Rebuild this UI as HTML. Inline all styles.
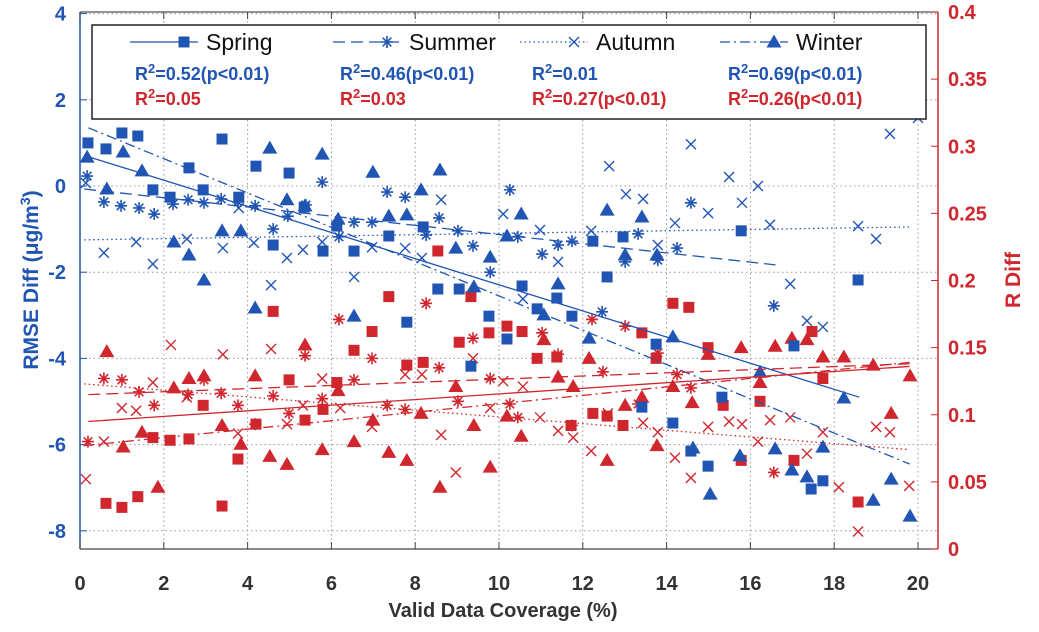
<!DOCTYPE html>
<html><head><meta charset="utf-8"><style>
body{margin:0;background:#fff;}
svg{display:block;font-family:"Liberation Sans",sans-serif;}
</style></head><body>
<svg id="chart" width="1039" height="632" viewBox="0 0 1039 632" xmlns="http://www.w3.org/2000/svg"></svg>
<script>
// ---- data ----
const xTicks=[0,2,4,6,8,10,12,14,16,18,20];
const yLeftTicks=[-8,-6,-4,-2,0,2,4];
const yRightTicks=[0,0.05,0.1,0.15,0.2,0.25,0.3,0.35,0.4];
const yRightLabels=["0","0.05","0.1","0.15","0.2","0.25","0.3","0.35","0.4"];
// RMSE diff (left axis) [x,y]
const rmseSpring=[[0.19,1.0],[0.62,0.86],[1.0,1.23],[1.38,1.16],[1.74,-0.09],[2.15,-0.26],[2.6,0.42],[2.94,-0.09],[3.39,1.09],[3.79,-0.26],[4.2,0.46],[4.61,-1.37],[4.99,0.3],[5.35,-0.49],[5.8,-1.51],[6.13,-0.93],[6.54,-1.51],[7.37,-1.16],[7.8,-3.16],[8.19,-0.95],[8.54,-2.39],[9.05,-2.39],[9.33,-4.18],[9.76,-3.02],[10.19,-3.55],[10.55,-2.32],[10.91,-2.85],[11.38,-2.6],[11.74,-3.02],[12.24,-1.28],[12.58,-2.11],[12.96,-1.18],[13.41,-5.13],[13.75,-3.67],[14.15,-5.5],[14.58,-6.15],[14.99,-6.5],[15.32,-4.9],[15.78,-1.04],[17.04,-3.71],[17.45,-7.03],[17.73,-6.84],[18.57,-2.18]];
const rmseSummer=[[0.17,0.23],[0.57,-0.37],[0.98,-0.46],[1.41,-0.51],[1.77,-0.65],[2.22,-0.42],[2.58,-0.32],[2.96,-0.39],[3.37,-0.3],[3.77,-0.37],[4.18,-0.46],[4.61,-1.0],[4.96,-0.7],[5.39,-0.44],[5.78,0.09],[6.18,-1.18],[6.54,-0.84],[6.97,-0.84],[7.33,-0.14],[7.76,-0.26],[8.26,-1.14],[8.57,-0.74],[9.02,-1.04],[9.38,-1.39],[9.79,-2.0],[10.26,-0.09],[10.45,-1.18],[11.03,-1.58],[11.41,-1.37],[11.74,-1.28],[12.46,-2.92],[13.01,-1.76],[13.32,-1.11],[13.79,-1.72],[14.25,-1.44],[14.58,-0.39],[16.56,-2.78]];
const rmseAutumn=[[0.14,0.07],[0.57,-1.55],[1.34,-1.3],[1.74,-1.81],[2.55,-1.23],[3.41,-1.44],[3.79,-0.51],[4.15,-1.32],[4.56,-2.3],[4.94,-1.67],[5.32,-1.48],[5.78,-1.3],[6.54,-2.11],[6.97,-1.42],[7.76,-1.44],[8.16,-1.67],[8.62,-0.32],[10.1,-0.65],[10.57,-2.62],[10.98,-1.02],[11.41,-1.76],[12.2,-1.04],[12.63,0.46],[13.03,-0.19],[13.44,-0.3],[13.79,-1.37],[14.2,-0.86],[14.58,0.97],[14.99,-0.63],[15.49,0.21],[15.8,-0.39],[16.18,0.0],[16.47,-0.9],[16.95,-2.27],[17.35,-3.13],[17.73,-3.27],[18.57,-0.93],[19.0,-1.23],[19.33,1.21],[20.0,1.58]];
const rmseWinter=[[0.17,0.67],[0.64,-0.07],[1.03,0.79],[1.48,0.35],[2.24,-1.3],[2.6,-1.6],[2.96,-2.18],[3.39,-1.04],[3.84,-1.04],[4.18,-2.83],[4.53,0.88],[4.94,-0.32],[5.37,-0.46],[5.78,0.74],[6.16,-0.77],[6.54,-3.02],[6.99,0.32],[7.37,-0.7],[7.8,-0.67],[8.14,-0.09],[8.59,0.37],[8.97,-1.44],[9.4,-2.34],[9.79,-1.65],[10.19,-1.16],[10.53,-0.65],[11.07,-2.99],[11.41,-2.27],[12.15,-3.53],[12.58,-0.56],[13.01,-1.6],[13.41,-0.72],[13.77,-1.6],[14.15,-3.5],[14.63,-6.08],[15.04,-7.15],[15.75,-6.26],[16.23,-4.32],[16.59,-6.1],[16.99,-6.59],[17.35,-6.75],[17.73,-6.06],[18.23,-4.92],[18.93,-7.29],[19.36,-6.8],[19.81,-7.66]];
// R diff (right axis) [x,r]
const rSpring=[[0.62,0.034],[1.0,0.031],[1.38,0.039],[1.74,0.083],[2.15,0.081],[2.6,0.082],[2.94,0.107],[3.39,0.032],[3.77,0.067],[4.2,0.093],[4.61,0.177],[4.99,0.126],[5.37,0.096],[5.8,0.104],[6.13,0.124],[6.54,0.148],[6.97,0.162],[7.37,0.188],[7.8,0.137],[8.19,0.139],[8.54,0.222],[9.05,0.154],[9.33,0.188],[9.76,0.161],[10.19,0.166],[10.55,0.162],[10.91,0.142],[11.38,0.143],[11.72,0.092],[12.24,0.101],[12.58,0.099],[12.96,0.092],[13.41,0.161],[13.75,0.142],[14.15,0.183],[14.53,0.18],[14.99,0.15],[15.35,0.107],[15.78,0.066],[16.23,0.11],[17.04,0.066],[17.47,0.162],[17.73,0.127],[18.57,0.035]];
const rSummer=[[0.19,0.08],[0.57,0.127],[1.0,0.126],[1.41,0.117],[1.77,0.107],[2.58,0.115],[2.96,0.126],[3.37,0.116],[3.77,0.107],[4.18,0.093],[4.61,0.114],[4.99,0.101],[5.37,0.144],[5.78,0.112],[6.18,0.171],[6.54,0.126],[6.97,0.142],[7.33,0.107],[7.76,0.104],[8.26,0.183],[8.57,0.135],[9.02,0.11],[9.38,0.157],[9.79,0.127],[10.26,0.108],[10.45,0.098],[11.03,0.161],[11.41,0.145],[11.74,0.092],[12.22,0.171],[12.48,0.132],[13.01,0.166],[13.32,0.108],[13.79,0.146],[14.25,0.13],[14.58,0.12],[16.56,0.057]];
const rAutumn=[[0.14,0.052],[0.57,0.08],[1.0,0.105],[1.34,0.103],[1.74,0.124],[2.17,0.152],[2.55,0.113],[3.41,0.145],[3.77,0.086],[4.56,0.149],[4.94,0.093],[5.32,0.107],[5.78,0.127],[6.21,0.105],[6.97,0.091],[7.76,0.13],[8.16,0.13],[8.62,0.085],[8.97,0.057],[9.38,0.142],[9.79,0.105],[10.1,0.125],[10.57,0.121],[10.98,0.098],[11.41,0.088],[11.77,0.083],[12.2,0.073],[12.6,0.101],[13.44,0.094],[13.79,0.087],[14.2,0.068],[14.58,0.053],[14.99,0.091],[15.49,0.095],[15.8,0.093],[16.18,0.08],[16.47,0.096],[16.95,0.098],[17.35,0.071],[17.73,0.087],[18.11,0.046],[18.57,0.013],[19.0,0.091],[19.33,0.087],[19.79,0.047]];
const rWinter=[[0.64,0.147],[1.03,0.076],[1.48,0.087],[1.86,0.046],[2.24,0.12],[2.6,0.127],[2.96,0.129],[3.39,0.092],[3.84,0.078],[4.18,0.129],[4.53,0.069],[4.94,0.063],[5.37,0.152],[5.78,0.074],[6.16,0.118],[6.54,0.08],[6.99,0.096],[7.37,0.072],[7.8,0.066],[8.14,0.101],[8.59,0.046],[8.97,0.121],[9.4,0.092],[9.79,0.061],[10.19,0.099],[10.53,0.084],[11.07,0.156],[11.41,0.128],[11.77,0.121],[12.15,0.142],[12.58,0.066],[13.01,0.107],[13.41,0.113],[13.77,0.077],[14.15,0.121],[14.61,0.109],[14.99,0.145],[15.78,0.15],[16.23,0.124],[16.59,0.151],[16.99,0.157],[17.35,0.156],[17.73,0.143],[18.23,0.143],[18.93,0.137],[19.36,0.101],[19.81,0.129]];
// trend lines [x0,y0,x1,y1]
const fitRmseSpring=[0.2,0.68,18.6,-4.9];
const fitRmseSummer=[0.1,-0.07,16.6,-1.83];
const fitRmseAutumn=[0.1,-1.25,19.8,-0.95];
const fitRmseWinter=[0.2,1.35,19.8,-6.45];
const fitRSpring=[0.2,0.095,19.8,0.136];
const fitRSummer=[0.2,0.115,19.8,0.138];
const fitRAutumn=[0.1,0.123,19.8,0.074];
const fitRWinter=[0.1,0.077,19.8,0.139];

// ---- scales ----
const L=80,R=938,T=12,B=549;
const sx=v=>L+v*41.9;
const syL=v=>186-v*43.1;
const syR=v=>B-v*(B-T)/0.4;
const BLUE="#2155b3",RED="#d0272e";
const svg=document.getElementById('chart');
const NS="http://www.w3.org/2000/svg";
function el(tag,attrs,parent){const e=document.createElementNS(NS,tag);for(const k in attrs)e.setAttribute(k,attrs[k]);(parent||svg).appendChild(e);return e;}

// grid
const grid=el('g',{});


xTicks.forEach(t=>{if(t>0)el('line',{x1:sx(t),x2:sx(t),y1:T,y2:B,stroke:"#999","stroke-width":1,"stroke-dasharray":"1.5,3"},grid);});
yLeftTicks.forEach(t=>{el('line',{x1:L,x2:R,y1:syL(t),y2:syL(t),stroke:"#999","stroke-width":1,"stroke-dasharray":"1.5,3"},grid);});

// axes
const axes=el('g',{});


el('line',{x1:L,x2:R,y1:T,y2:T,stroke:"#555","stroke-width":1.2},axes);
el('line',{x1:L,x2:R,y1:B,y2:B,stroke:"#444","stroke-width":1.2},axes);
el('line',{x1:L,x2:L,y1:T,y2:B,stroke:BLUE,"stroke-width":1.5},axes);
el('line',{x1:R,x2:R,y1:T,y2:B,stroke:RED,"stroke-width":1.5},axes);
xTicks.forEach(t=>{
  el('line',{x1:sx(t),x2:sx(t),y1:B,y2:B-7,stroke:"#444"},axes);
  el('line',{x1:sx(t),x2:sx(t),y1:T,y2:T+7,stroke:"#444"},axes);
  const tx=el('text',{x:sx(t),y:590,"text-anchor":"middle","font-size":20,"font-weight":"bold",fill:"#333"},axes);
  
  
  tx.textContent=t;
});
yLeftTicks.forEach(t=>{
  el('line',{x1:L,x2:L+7,y1:syL(t),y2:syL(t),stroke:BLUE},axes);
  const tx=el('text',{x:66,y:syL(t)+7,"text-anchor":"end","font-size":20,"font-weight":"bold",fill:BLUE},axes);
  
  
  tx.textContent=t;
});
yRightTicks.forEach((t,i)=>{
  el('line',{x1:R,x2:R-7,y1:syR(t),y2:syR(t),stroke:RED},axes);
  const tx=el('text',{x:948,y:syR(t)+7,"font-size":20,"font-weight":"bold",fill:RED},axes);
  
  
  tx.textContent=yRightLabels[i];
});

// markers
function marker(type,cx,cy,color,g){
  if(type==='sq')el('rect',{x:cx-5.5,y:cy-5.5,width:11,height:11,fill:color},g);
  else if(type==='tri')el('polygon',{points:`${cx},${cy-7.5} ${cx+7.5},${cy+5.5} ${cx-7.5},${cy+5.5}`,fill:color},g);
  else if(type==='x'){el('path',{d:`M${cx-5} ${cy-5}L${cx+5} ${cy+5}M${cx+5} ${cy-5}L${cx-5} ${cy+5}`,stroke:color,"stroke-width":1.4,fill:"none"},g);}
  else {el('path',{d:`M${cx-6} ${cy}H${cx+6}M${cx} ${cy-6}V${cy+6}M${cx-4.3} ${cy-4.3}L${cx+4.3} ${cy+4.3}M${cx+4.3} ${cy-4.3}L${cx-4.3} ${cy+4.3}`,stroke:color,"stroke-width":1.6,fill:"none"},g);}
}
function series(name,data,type,color,sy){
  const g=el('g',{});
  
  
  data.forEach(d=>marker(type,sx(d[0]),sy(d[1]),color,g));
}
function fit(name,f,dash,color,sy){
  const ln=el('line',{x1:sx(f[0]),y1:sy(f[1]),x2:sx(f[2]),y2:sy(f[3]),stroke:color,"stroke-width":1.3,"stroke-dasharray":dash});
  
  
}
series('r-spring-points',rSpring,'sq',RED,syR);
series('r-summer-points',rSummer,'ast',RED,syR);
series('r-autumn-points',rAutumn,'x',RED,syR);
series('r-winter-points',rWinter,'tri',RED,syR);
series('rmse-spring-points',rmseSpring,'sq',BLUE,syL);
series('rmse-summer-points',rmseSummer,'ast',BLUE,syL);
series('rmse-autumn-points',rmseAutumn,'x',BLUE,syL);
series('rmse-winter-points',rmseWinter,'tri',BLUE,syL);
fit('rmse-spring-fit',fitRmseSpring,"none",BLUE,syL);
fit('rmse-summer-fit',fitRmseSummer,"12,6",BLUE,syL);
fit('rmse-autumn-fit',fitRmseAutumn,"1.5,3",BLUE,syL);
fit('rmse-winter-fit',fitRmseWinter,"10,4,2,4",BLUE,syL);
fit('r-spring-fit',fitRSpring,"none",RED,syR);
fit('r-summer-fit',fitRSummer,"12,6",RED,syR);
fit('r-autumn-fit',fitRAutumn,"1.5,3",RED,syR);
fit('r-winter-fit',fitRWinter,"10,4,2,4",RED,syR);

// legend
const lg=el('g',{});


el('rect',{x:92,y:25,width:834,height:94,fill:"#fff",stroke:"#222","stroke-width":1.5},lg);
const legNames=["Spring","Summer","Autumn","Winter"];
const legTypes=['sq','ast','x','tri'];
const legDash=["none","12,6","1.5,3","10,4,2,4"];
const legX=[130,333,520,720];
const legStatsBlue=["=0.52(p<0.01)","=0.46(p<0.01)","=0.01","=0.69(p<0.01)"];
const legStatsRed=["=0.05","=0.03","=0.27(p<0.01)","=0.26(p<0.01)"];
const statX=[135,340,532,728];
legNames.forEach((n,i)=>{
  const e=el('g',{},lg);
  
  
  el('line',{x1:legX[i],x2:legX[i]+68,y1:42,y2:42,stroke:BLUE,"stroke-width":1.3,"stroke-dasharray":legDash[i]},e);
  marker(legTypes[i],legX[i]+54,42,BLUE,e);
  const t=el('text',{x:legX[i]+76,y:50,"font-size":23,fill:"#111"},e);t.textContent=n;
  const s1=el('text',{x:statX[i],y:80,"font-size":18,"font-weight":"bold",fill:BLUE},e);
  s1.innerHTML='R<tspan dy="-7" font-size="13">2</tspan><tspan dy="7">'+legStatsBlue[i].replace('<','&lt;')+'</tspan>';
  const s2=el('text',{x:statX[i],y:105,"font-size":18,"font-weight":"bold",fill:RED},e);
  s2.innerHTML='R<tspan dy="-7" font-size="13">2</tspan><tspan dy="7">'+legStatsRed[i].replace('<','&lt;')+'</tspan>';
});

// axis titles
const yt=el('text',{x:0,y:0,transform:"translate(38,280) rotate(-90)","text-anchor":"middle","font-size":21,"font-weight":"bold",fill:BLUE});


yt.innerHTML='RMSE Diff (μg/m<tspan dy="-8" font-size="14">3</tspan><tspan dy="8">)</tspan>';
const yr=el('text',{x:0,y:0,transform:"translate(1020,280) rotate(-90)","text-anchor":"middle","font-size":21,"font-weight":"bold",fill:RED});


yr.textContent='R Diff';
const xt=el('text',{x:503,y:617,"text-anchor":"middle","font-size":20,"font-weight":"bold",fill:"#333"});


xt.textContent='Valid Data Coverage (%)';
</script>
</body></html>
